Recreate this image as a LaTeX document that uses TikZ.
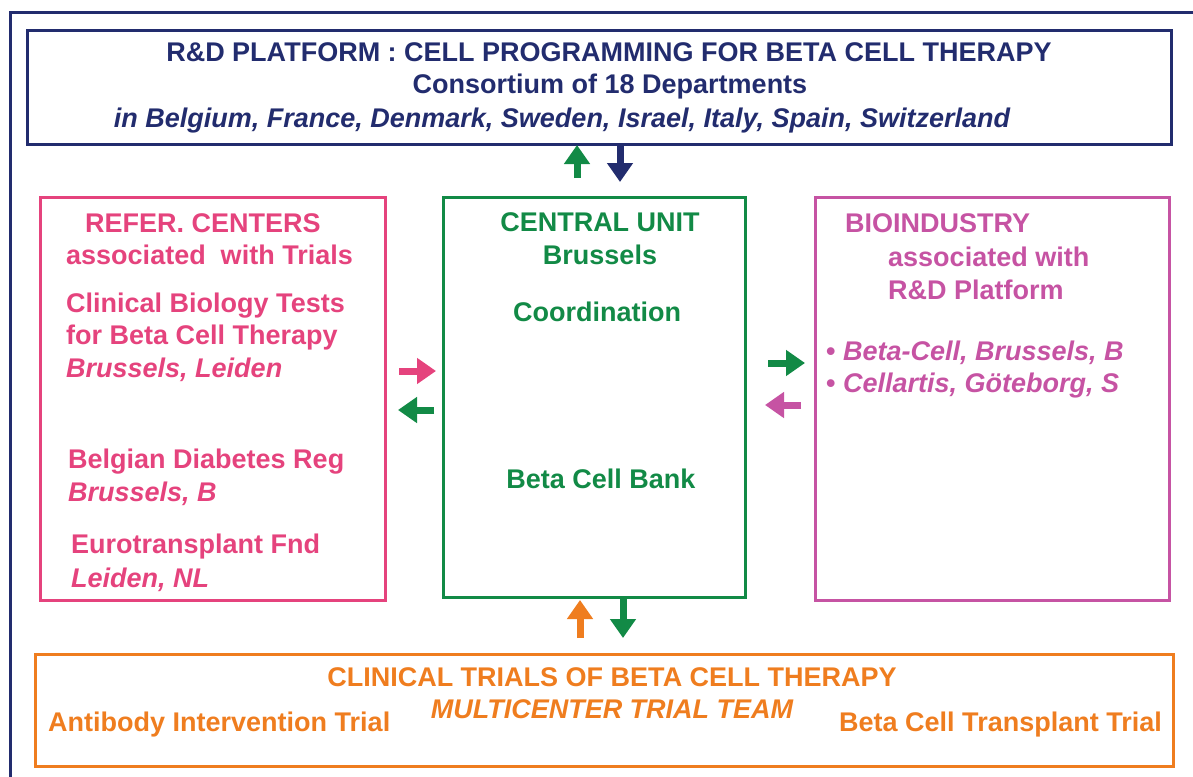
\documentclass[tikz,border=0pt]{standalone}
\usepackage{fontspec}
\setmainfont{Liberation Sans}
\usetikzlibrary{arrows.meta}
\definecolor{cnavy}{HTML}{222C6E}
\definecolor{cpink}{HTML}{E5437D}
\definecolor{cgreen}{HTML}{128A46}
\definecolor{cmag}{HTML}{C653A3}
\definecolor{corange}{HTML}{EF7D1F}
\tikzset{
  box/.style={draw, line width=3pt},
  txt/.style={inner sep=0pt, font=\fontsize{27}{31}\selectfont\bfseries},
  itx/.style={txt, font=\fontsize{27}{31}\selectfont\bfseries\itshape},
  barrow/.style={line width=7pt, -{Triangle[width=25pt,length=19pt]}},
}
\begin{document}
\begin{tikzpicture}[x=1pt,y=-1pt]
\useasboundingbox (0,0) rectangle (1193,776);
% outer frame
\draw[cnavy, line width=3pt] (10,800) -- (10,13) -- (1210,13);
% boxes
\draw[box, cnavy] (27,31) rectangle (1171,144);
\draw[box, cpink] (40,197) rectangle (385,600);
\draw[box, cgreen] (443,197) rectangle (745,597);
\draw[box, cmag] (815,197) rectangle (1169,600);
\draw[box, corange] (35,654) rectangle (1173,766);

% top texts
\node[txt, text=cnavy] (t1) at (609,52) {R\&D PLATFORM : CELL PROGRAMMING FOR BETA CELL THERAPY};
\node[txt, text=cnavy] (t2) at (610,87) {Consortium of 18 Departments};
\node[itx, text=cnavy] (t3) at (562,121) {in Belgium, France, Denmark, Sweden, Israel, Italy, Spain, Switzerland};

% left texts
\node[txt, text=cpink, anchor=west] (l1) at (85,223) {REFER. CENTERS};
\node[txt, text=cpink, anchor=west] (l2) at (66,255) {associated\ \ with Trials};
\node[txt, text=cpink, anchor=west] (l3) at (66,306) {Clinical Biology Tests};
\node[txt, text=cpink, anchor=west] (l4) at (66,338) {for Beta Cell Therapy};
\node[itx, text=cpink, anchor=west] (l5) at (66,370) {Brussels, Leiden};
\node[txt, text=cpink, anchor=west] (l6) at (68,462) {Belgian Diabetes Reg};
\node[itx, text=cpink, anchor=west] (l7) at (68,494) {Brussels, B};
\node[txt, text=cpink, anchor=west] (l8) at (71,547) {Eurotransplant Fnd};
\node[itx, text=cpink, anchor=west] (l9) at (71,580) {Leiden, NL};

% central texts
\node[txt, text=cgreen] (c1) at (600,222) {CENTRAL UNIT};
\node[txt, text=cgreen] (c2) at (600,255) {Brussels};
\node[txt, text=cgreen] (c3) at (597,312) {Coordination};
\node[txt, text=cgreen] (c4) at (601,479) {Beta Cell Bank};

% right texts
\node[txt, text=cmag, anchor=west] (r1) at (845,223) {BIOINDUSTRY};
\node[txt, text=cmag, anchor=west] (r2) at (888,257) {associated with};
\node[txt, text=cmag, anchor=west] (r3) at (888,290) {R\&D Platform};
\node[itx, text=cmag, anchor=west] (r4) at (826,353) {\textup{•} Beta-Cell, Brussels, B};
\node[itx, text=cmag, anchor=west] (r5) at (826,386) {\textup{•} Cellartis, Göteborg, S};

% bottom texts
\node[txt, text=corange] (b1) at (612,677) {CLINICAL TRIALS OF BETA CELL THERAPY};
\node[itx, text=corange] (b2) at (612,709) {MULTICENTER TRIAL TEAM};
\node[txt, text=corange, anchor=west] (b3) at (48,725) {Antibody Intervention Trial};
\node[txt, text=corange, anchor=east] (b4) at (1162,725) {Beta Cell Transplant Trial};

% arrow anchor coordinates
\coordinate (a1s) at (577,178); \coordinate (a1e) at (577,145);
\coordinate (a2s) at (620,143); \coordinate (a2e) at (620,182);
\coordinate (a3s) at (399,371); \coordinate (a3e) at (436,371);
\coordinate (a4s) at (434,410); \coordinate (a4e) at (398,410);
\coordinate (a5s) at (768,363); \coordinate (a5e) at (805,363);
\coordinate (a6s) at (801,405); \coordinate (a6e) at (765,405);
\coordinate (a7s) at (580,638); \coordinate (a7e) at (580,600);
\coordinate (a8s) at (623,598); \coordinate (a8e) at (623,638);

\draw[barrow, cgreen] (a1s) -- (a1e);
\draw[barrow, cnavy] (a2s) -- (a2e);
\draw[barrow, cpink] (a3s) -- (a3e);
\draw[barrow, cgreen] (a4s) -- (a4e);
\draw[barrow, cgreen] (a5s) -- (a5e);
\draw[barrow, cmag] (a6s) -- (a6e);
\draw[barrow, corange] (a7s) -- (a7e);
\draw[barrow, cgreen] (a8s) -- (a8e);
\end{tikzpicture}
\end{document}
